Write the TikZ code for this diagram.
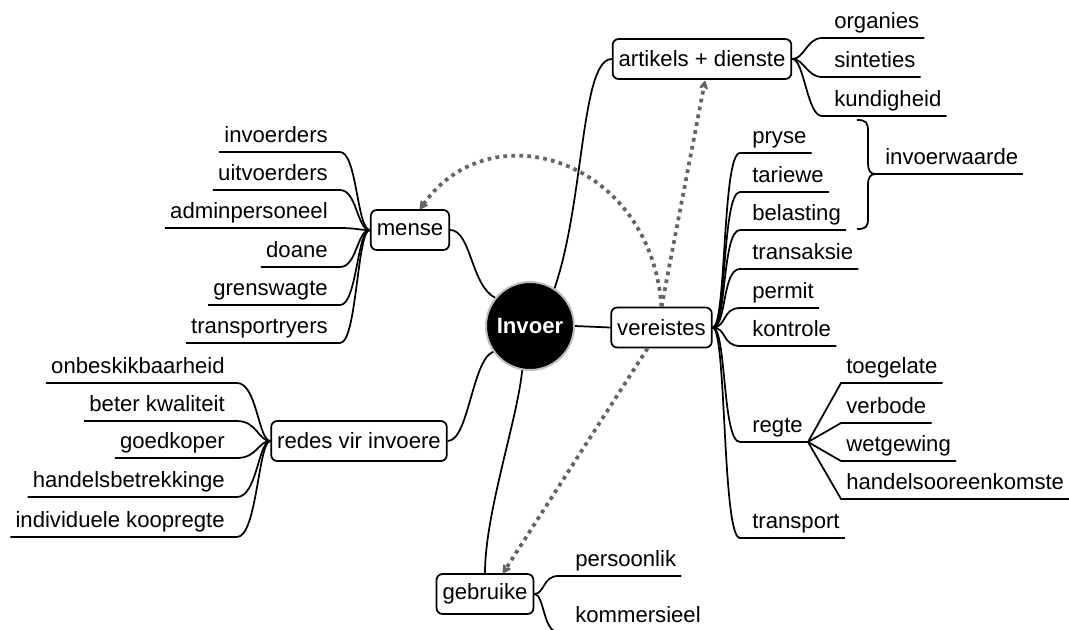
\documentclass[tikz,border=0pt]{standalone}
\usepackage{fontspec}
\setmainfont{Liberation Sans}
\usetikzlibrary{calc,arrows.meta}
\definecolor{relgray}{RGB}{100,100,100}
\begin{document}
\begin{tikzpicture}[x=0.75pt,y=-0.75pt,
  lbl/.style={font=\fontsize{16.6}{20}\selectfont},
  hub/.style={circle,fill=black,draw=gray!50,line width=1.5pt,minimum size=66pt,inner sep=0pt,
    text=white,font=\fontsize{16.6}{20}\selectfont\bfseries},
  box/.style={lbl,draw,line width=1.3pt,rounded corners=4.5pt,fill=white,
    inner xsep=4.5pt,inner ysep=0pt,minimum height=30pt},
  leaf/.style={lbl,inner xsep=3.75pt,inner ysep=3pt,text height=12pt,text depth=3.75pt},
  link/.style={line width=1.3pt,black},
  rel/.style={relgray,line width=2.8pt,dash pattern=on 2.8pt off 3.2pt,
    -{Stealth[length=8pt,width=8.5pt,round]}}]
\clip (0,0) rectangle (1069,629);
\fill[white] (0,0) rectangle (1069,629);

% central topic and main branches
\node[hub] (Invoer) at (530,326) {Invoer};
\node[box] (vereistes) at (661.5,327.5) {vereistes};
\node[box] (artikels) at (702,59) {artikels + dienste};
\node[box] (mense) at (410,230) {mense};
\node[box] (redes) at (359,441) {redes vir invoere};
\node[box] (gebruike) at (485,594) {gebruike};

\draw[link] (Invoer.east) -- (vereistes.west);
\draw[link] (Invoer.57) .. controls +(30,-87) and +(-31,0) .. (artikels.west);
\draw[link] (Invoer.141) .. controls +(-24,-12) and +(21,0) .. (mense.east);
\draw[link] (Invoer.215) .. controls +(-21,8) and +(21,0) .. (redes.east);
\draw[link] (Invoer.260) .. controls +(-5,50) and +(0,-60) .. (gebruike.north);

% artikels + dienste
\node[leaf,anchor=south west] (organies) at (829,38) {organies};
\node[leaf,anchor=south west] (sinteties) at (829,77) {sinteties};
\node[leaf,anchor=south west] (kundigheid) at (829,116) {kundigheid};
\foreach \n in {organies,sinteties,kundigheid}
  \draw[link] (artikels.east) .. controls +(12,0) and +(-15,0) .. ($(\n.south west)+(-7,0)$) -- (\n.south east);

% vereistes
\node[leaf,anchor=south west] (pryse) at (747,153) {pryse};
\node[leaf,anchor=south west] (tariewe) at (747,192) {tariewe};
\node[leaf,anchor=south west] (belasting) at (747,230) {belasting};
\node[leaf,anchor=south west] (transaksie) at (747,269) {transaksie};
\node[leaf,anchor=south west] (permit) at (747,308) {permit};
\node[leaf,anchor=south west] (kontrole) at (747,346) {kontrole};
\node[leaf,anchor=south west] (regte) at (747,442) {regte};
\node[leaf,anchor=south west] (transport) at (747,538) {transport};
\foreach \n in {pryse,tariewe,belasting,transaksie,permit,kontrole,regte,transport}
  \draw[link] (vereistes.east) .. controls +(14,0) and +(-18,0) .. ($(\n.south west)+(-7,0)$) -- (\n.south east);

% regte
\node[leaf,anchor=south west] (toegelate) at (841,383) {toegelate};
\node[leaf,anchor=south west] (verbode) at (841,423) {verbode};
\node[leaf,anchor=south west] (wetgewing) at (841,461) {wetgewing};
\node[leaf,anchor=south west] (handels) at (841,499) {handelsooreenkomste};
\foreach \n in {toegelate,verbode,wetgewing,handels}
  \draw[link] (regte.south east) -- (\n.south west) -- (\n.south east);

% brace grouping pryse, tariewe and belasting
\coordinate (bracetip) at (876,174);
\draw[link] (857,120) .. controls (866,120) and (868,122) .. (868,132) -- (868,162)
  .. controls (868,171) and (870,174) .. (bracetip)
  .. controls (870,174) and (868,177) .. (868,186) -- (868,218)
  .. controls (868,227) and (866,229) .. (857,229);
\node[leaf,anchor=south west] (invoerwaarde) at (880,174) {invoerwaarde};
\draw[link] (bracetip) -- (invoerwaarde.south east);

% mense
\node[leaf,anchor=south east] (invoerders) at (333,152) {invoerders};
\node[leaf,anchor=south east] (uitvoerders) at (333,190) {uitvoerders};
\node[leaf,anchor=south east] (admin) at (333,228) {adminpersoneel};
\node[leaf,anchor=south east] (doane) at (333,267) {doane};
\node[leaf,anchor=south east] (grenswagte) at (333,305) {grenswagte};
\node[leaf,anchor=south east] (transportryers) at (333,343) {transportryers};
\foreach \n in {invoerders,uitvoerders,admin,doane,grenswagte,transportryers}
  \draw[link] (mense.west) .. controls +(-13,0) and +(17,0) .. ($(\n.south east)+(7,0)$) -- (\n.south west);

% redes vir invoere
\node[leaf,anchor=south east] (onbeskikbaar) at (230,383) {onbeskikbaarheid};
\node[leaf,anchor=south east] (kwaliteit) at (230,421) {beter kwaliteit};
\node[leaf,anchor=south east] (goedkoper) at (230,458) {goedkoper};
\node[leaf,anchor=south east] (betrekkinge) at (230,497) {handelsbetrekkinge};
\node[leaf,anchor=south east] (kooppregte) at (230,537) {individuele koopregte};
\foreach \n in {onbeskikbaar,kwaliteit,goedkoper,betrekkinge,kooppregte}
  \draw[link] (redes.west) .. controls +(-12,0) and +(20,0) .. ($(\n.south east)+(7,0)$) -- (\n.south west);

% gebruike
\node[leaf,anchor=south west] (persoonlik) at (570,576) {persoonlik};
\node[leaf,anchor=south west] (kommersieel) at (570,632) {kommersieel};
\foreach \n in {persoonlik,kommersieel}
  \draw[link] (gebruike.east) .. controls +(10,0) and +(-15,0) .. ($(\n.south west)+(-12,0)$) -- (\n.south east);

% relationships
\draw[rel] (vereistes.north) .. controls +(-11,-148) and +(70,-100) .. ($(mense.north)+(10,0)$);
\draw[rel] (vereistes.north) -- ($(artikels.south)+(3,1)$);
\draw[rel] ($(vereistes.south)+(-14,0)$) -- ($(gebruike.north)+(18,0)$);
\end{tikzpicture}
\end{document}
